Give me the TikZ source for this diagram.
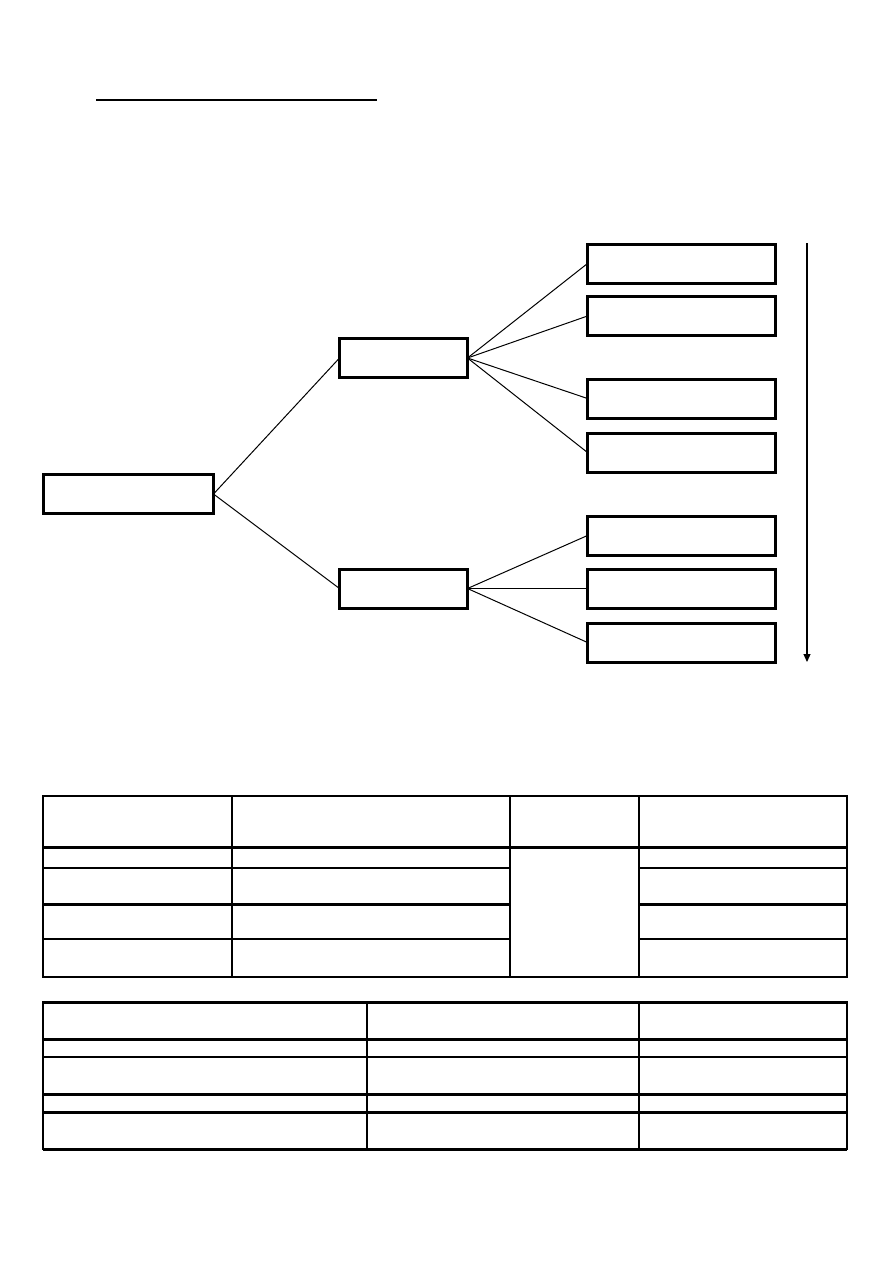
\documentclass[tikz,border=0pt]{standalone}
\usetikzlibrary{arrows.meta}
\begin{document}
\begin{tikzpicture}[x=1pt,y=-1pt,
  boxnode/.style={draw,line width=3pt,inner sep=0pt,outer sep=0pt,minimum height=39pt},
  rightbox/.style={boxnode,minimum width=188pt},
  conn/.style={line width=1pt},
  tline/.style={line width=2pt},
  tthick/.style={line width=3pt}]
\useasboundingbox (0,0) rectangle (893,1263);
% title underline
\coordinate (t1) at (96,100);
\coordinate (t2) at (377,100);
\draw[line width=2pt] (t1) -- (t2);
% tree
\node[boxnode,minimum width=170pt] (root) at (128.5,494) {};
\node[boxnode,minimum width=128pt] (mt) at (403.5,358) {};
\node[boxnode,minimum width=128pt] (mb) at (403.5,588.5) {};
\node[rightbox] (r1) at (681.5,263.5) {};
\node[rightbox] (r2) at (681.5,316) {};
\node[rightbox] (r3) at (681.5,398.5) {};
\node[rightbox] (r4) at (681.5,452.5) {};
\node[rightbox] (r5) at (681.5,535.5) {};
\node[rightbox] (r6) at (681.5,588.5) {};
\node[rightbox] (r7) at (681.5,642.5) {};
\draw[conn] (root.east) -- (mt.west);
\draw[conn] (root.east) -- (mb.west);
\foreach \r in {r1,r2,r3,r4} \draw[conn] (mt.east) -- (\r.west);
\foreach \r in {r5,r6,r7} \draw[conn] (mb.east) -- (\r.west);
% arrow
\coordinate (a1) at (807,243);
\coordinate (a2) at (807,662);
\draw[line width=1.2pt,-{Triangle[length=8pt,width=7pt]}] (a1) -- (a2);
% table 1
\draw[tline] (43,796) rectangle (847,977);
\draw[tthick] (43,847) -- (847,847);
\draw[tline] (43,868) -- (510,868) (639,868) -- (847,868);
\draw[tthick] (43,904) -- (510,904) (639,904) -- (847,904);
\draw[tline] (43,939) -- (510,939) (639,939) -- (847,939);
\draw[tline] (232,796) -- (232,977);
\draw[line width=2.5pt] (510,796) -- (510,977);
\draw[line width=2.5pt] (639,796) -- (639,977);
% table 2
\draw[tline] (43,1002) rectangle (847,1149);
\draw[tthick] (43,1002) -- (847,1002);
\draw[tthick] (43,1039) -- (847,1039);
\draw[tline] (43,1057) -- (847,1057);
\draw[tthick] (43,1094) -- (847,1094);
\draw[tthick] (43,1112) -- (847,1112);
\draw[tthick] (43,1149) -- (847,1149);
\draw[tline] (367,1002) -- (367,1149);
\draw[tline] (639,1002) -- (639,1149);
\end{tikzpicture}
\end{document}
